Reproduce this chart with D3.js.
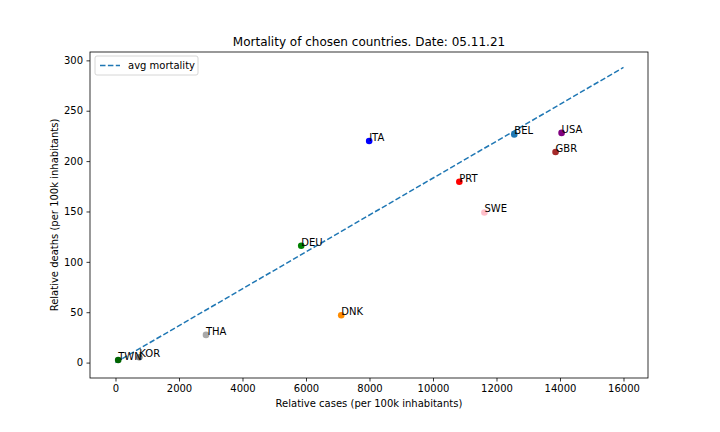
<!doctype html>
<html>
<head>
<meta charset="UTF-8">
<script src="https://d3js.org/d3.v7.min.js"></script>
<style>
  body { margin: 0; background: #fff; }
  text { font-family: "DejaVu Sans", sans-serif; fill: #000; }
</style>
</head>
<body>
<script>
// data
var countries = ["TWN", "KOR", "THA", "DEU", "DNK", "ITA", "PRT", "SWE", "BEL", "GBR", "USA"];
var cases     = [85, 750, 2850, 5850, 7110, 7990, 10830, 11620, 12560, 13860, 14050];
var deaths    = [2.5, 5.3, 27.5, 116, 47, 220, 179.5, 149, 226.5, 209, 228];
var colors    = ["darkgreen", "grey", "darkgray", "green", "darkorange", "blue", "red", "pink", "#1f77b4", "brown", "purple"];
var avgLineX  = [0, 16000];
var avgLineY  = [0, 293];
var xTicks    = [0, 2000, 4000, 6000, 8000, 10000, 12000, 14000, 16000];
var yTicks    = [0, 50, 100, 150, 200, 250, 300];

var W = 720, H = 432;
var m = {left: 90, right: 72, top: 52, bottom: 54};

var svg = d3.select("body").append("svg")
  .attr("width", W).attr("height", H);

svg.append("rect").attr("width", W).attr("height", H).attr("fill", "white");

var x = d3.scaleLinear().domain([-803, 16772]).range([m.left, W - m.right]);
var y = d3.scaleLinear().domain([-15.3, 308.3]).range([H - m.bottom, m.top]);

// axes
var xAxis = svg.append("g")
  .attr("transform", "translate(0," + (H - m.bottom) + ")")
  .call(d3.axisBottom(x).tickValues(xTicks).tickFormat(d3.format("d")).tickSizeOuter(0).tickSize(3.5).tickPadding(3.5));
var yAxis = svg.append("g")
  .attr("transform", "translate(" + m.left + ",0)")
  .call(d3.axisLeft(y).tickValues(yTicks).tickFormat(d3.format("d")).tickSizeOuter(0).tickSize(3.5).tickPadding(3.5));
[xAxis, yAxis].forEach(function(g){
  g.select(".domain").remove();
  g.selectAll("text").style("font-size", "10px").style("font-family", "DejaVu Sans, sans-serif").attr("fill", "#000");
  g.selectAll("line").attr("stroke", "#000").attr("stroke-width", 0.8);
});

// frame
svg.append("rect")
  .attr("x", m.left).attr("y", m.top)
  .attr("width", W - m.left - m.right).attr("height", H - m.top - m.bottom)
  .attr("fill", "none").attr("stroke", "#000").attr("stroke-width", 0.8);

// average mortality line
var pts = avgLineX.map(function(d, i){ return [d, avgLineY[i]]; });
svg.append("path")
  .attr("d", d3.line().x(function(d){ return x(d[0]); }).y(function(d){ return y(d[1]); })(pts))
  .attr("fill", "none").attr("stroke", "#1f77b4").attr("stroke-width", 1.5)
  .attr("stroke-dasharray", "5.5,2.4");

// points
var idx = d3.range(countries.length);
svg.selectAll("circle.pt").data(idx).enter().append("circle")
  .attr("class", "pt")
  .attr("cx", function(i){ return x(cases[i]); })
  .attr("cy", function(i){ return y(deaths[i]); })
  .attr("r", 3.3)
  .attr("fill", function(i){ return colors[i]; });

svg.selectAll("text.lbl").data(idx).enter().append("text")
  .attr("class", "lbl")
  .attr("x", function(i){ return x(cases[i]); })
  .attr("y", function(i){ return y(deaths[i]); })
  .style("font-size", "10px")
  .text(function(i){ return countries[i]; });

// title and labels
svg.append("text")
  .attr("x", (m.left + W - m.right) / 2).attr("y", 46)
  .attr("text-anchor", "middle").style("font-size", "12px")
  .text("Mortality of chosen countries. Date: 05.11.21");
svg.append("text")
  .attr("x", (m.left + W - m.right) / 2).attr("y", 407)
  .attr("text-anchor", "middle").style("font-size", "10px")
  .text("Relative cases (per 100k inhabitants)");
svg.append("text")
  .attr("transform", "translate(58," + ((m.top + H - m.bottom) / 2) + ") rotate(-90)")
  .attr("text-anchor", "middle").style("font-size", "10px")
  .text("Relative deaths (per 100k inhabitants)");

// legend
var lg = svg.append("g").attr("transform", "translate(95,56)");
lg.append("rect").attr("width", 103).attr("height", 19).attr("rx", 2)
  .attr("fill", "white").attr("stroke", "#ccc").attr("stroke-width", 0.8);
lg.append("line").attr("x1", 5).attr("x2", 25).attr("y1", 9.5).attr("y2", 9.5)
  .attr("stroke", "#1f77b4").attr("stroke-width", 1.5).attr("stroke-dasharray", "5.5,2.4");
lg.append("text").attr("x", 33).attr("y", 13).style("font-size", "10px").text("avg mortality");
</script>
</body>
</html>
